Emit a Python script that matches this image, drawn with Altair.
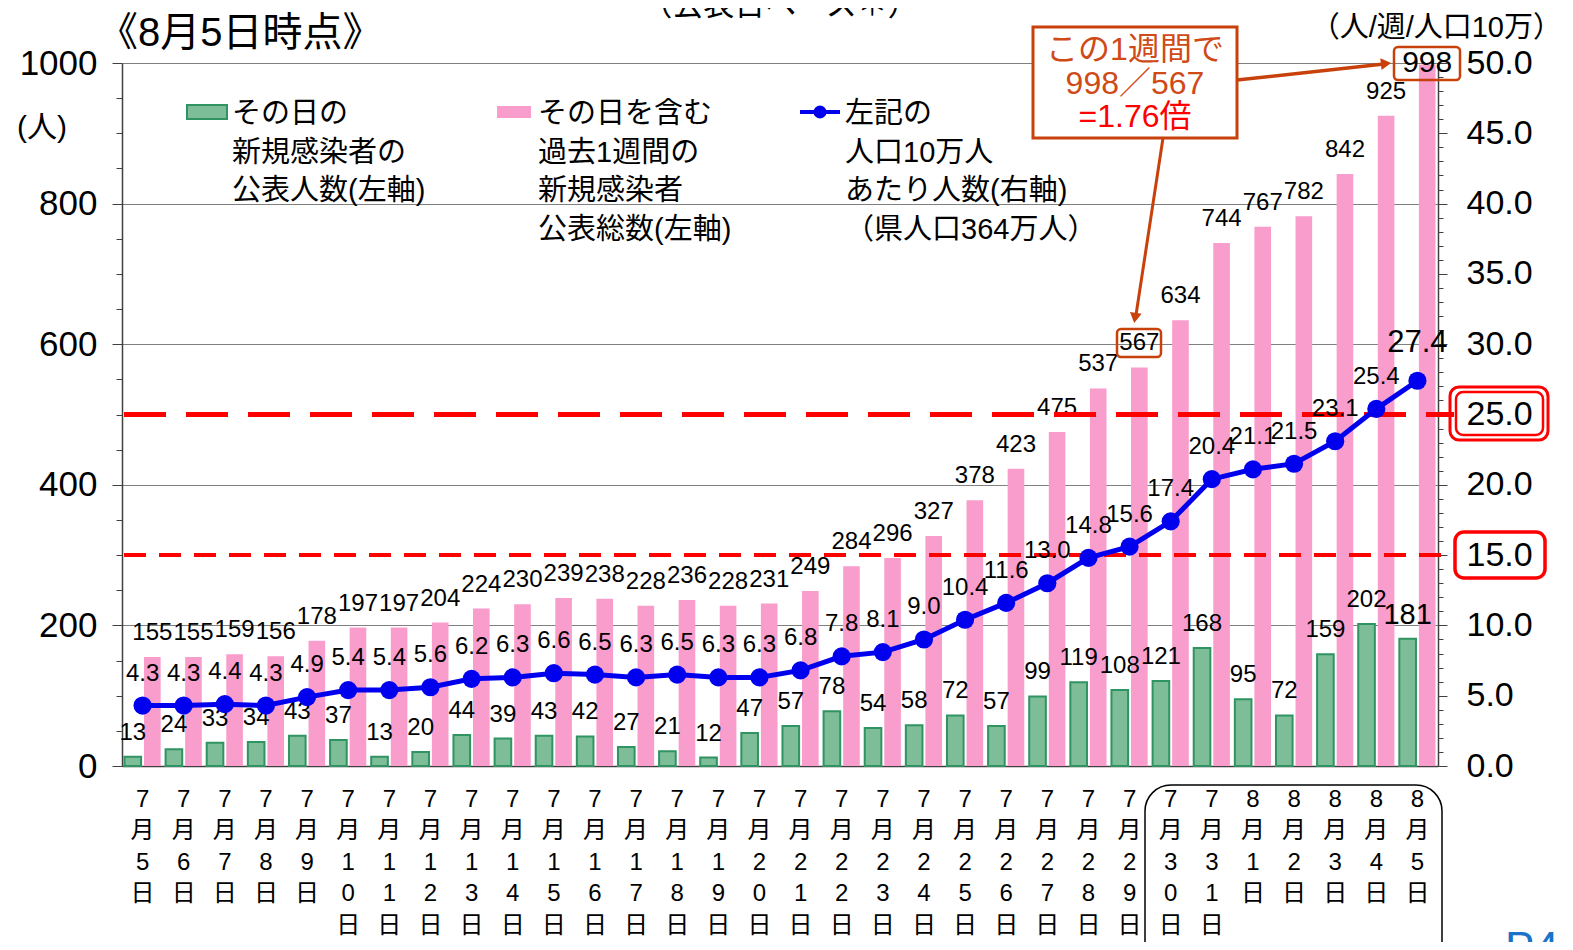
import altair as alt
import pandas as pd

# ---------------- data ----------------
days = ["7月5日", "7月6日", "7月7日", "7月8日", "7月9日", "7月10日", "7月11日", "7月12日",
        "7月13日", "7月14日", "7月15日", "7月16日", "7月17日", "7月18日", "7月19日", "7月20日",
        "7月21日", "7月22日", "7月23日", "7月24日", "7月25日", "7月26日", "7月27日", "7月28日",
        "7月29日", "7月30日", "7月31日", "8月1日", "8月2日", "8月3日", "8月4日", "8月5日"]
daily = [13, 24, 33, 34, 43, 37, 13, 20, 44, 39, 43, 42, 27, 21, 12, 47,
         57, 78, 54, 58, 72, 57, 99, 119, 108, 121, 168, 95, 72, 159, 202, 181]
weekly = [155, 155, 159, 156, 178, 197, 197, 204, 224, 230, 239, 238, 228, 236, 228, 231,
          249, 284, 296, 327, 378, 423, 475, 537, 567, 634, 744, 767, 782, 842, 925, 998]
rate = [4.3, 4.3, 4.4, 4.3, 4.9, 5.4, 5.4, 5.6, 6.2, 6.3, 6.6, 6.5, 6.3, 6.5, 6.3, 6.3,
        6.8, 7.8, 8.1, 9.0, 10.4, 11.6, 13.0, 14.8, 15.6, 17.4, 20.4, 21.1, 21.5, 23.1, 25.4, 27.4]
series_names = ["daily", "weekly"]
left_ticks = list(range(0, 1001, 50))
right_ticks = list(range(0, 51))
threshold_high = 25.0
threshold_low = 15.0

legend_daily = ["その日の", "新規感染者の", "公表人数(左軸)"]
legend_weekly = ["その日を含む", "過去1週間の", "新規感染者", "公表総数(左軸)"]
legend_rate = ["左記の", "人口10万人", "あたり人数(右軸)", "（県人口364万人）"]
title_text = "《8月5日時点》"
subtitle_text = "（公表日ベース＊）"
left_unit = "(人)"
right_unit = "（人/週/人口10万）"
note_lines = ["この1週間で", "998／567"]
note_result = "=1.76倍"
page_text = "P4"

# ---------------- styles ----------------
W, H = 1316, 703
FONT = "Liberation Sans, Arial, Noto Sans CJK JP, sans-serif"
GREEN_FILL = "#7dbd98"
GREEN_DARK = "#2f9462"
PINK = "#f99dcc"
BLUE = "#0000ee"
RED = "#ff0000"
ORANGE = "#c8410b"

bars_rows = []
for i, d in enumerate(days):
    bars_rows.append({"day": d, "i": i, "series": "daily", "value": daily[i]})
    bars_rows.append({"day": d, "i": i, "series": "weekly", "value": weekly[i]})
bars_df = pd.DataFrame(bars_rows)
line_df = pd.DataFrame({"day": days, "i": list(range(len(days))), "rate": rate})

xscale = alt.Scale(domain=days, paddingInner=0.12, paddingOuter=0.06)
xaxis = alt.Axis(title=None, labelExpr="split(datum.label, '')", labelAngle=0,
                 labelFontSize=24, labelLineHeight=31.5, labelBaseline="top",
                 labelPadding=21, ticks=False, labelOverlap=False, labelColor="black",
                 domainColor="#404040", domainWidth=1.5, labelFont=FONT)
x_enc = alt.X("day:N", scale=xscale, sort=None, axis=xaxis)

lscale = alt.Scale(domain=[0, 1000], nice=False, zero=True)
laxis = alt.Axis(title=None, values=left_ticks, format="d",
                 labelExpr="datum.value % 200 === 0 ? datum.label : ''",
                 tickSize={"condition": {"test": "datum.value % 200 === 0", "value": 10}, "value": 6},
                 grid=True,
                 gridOpacity={"condition": {"test": "datum.value % 200 === 0 && datum.value > 0", "value": 1}, "value": 0},
                 gridColor="#808080", gridWidth=1, labelFontSize=35, labelPadding=15,
                 labelColor="black", tickColor="#404040", domainColor="#404040",
                 domainWidth=1.5, labelFont=FONT)
y_left = alt.Y("value:Q", scale=lscale, axis=laxis)

rscale = alt.Scale(domain=[0, 50], nice=False, zero=True)
raxis = alt.Axis(title=None, orient="right", values=right_ticks,
                 labelExpr="datum.value % 5 === 0 ? format(datum.value, '.1f') : ''",
                 tickSize={"condition": {"test": "datum.value % 5 === 0", "value": 9}, "value": 5},
                 grid=False, labelFontSize=34, labelPadding=19, labelColor="black",
                 tickColor="#404040", domainColor="#404040", domainWidth=1.5, labelFont=FONT)

xoff = alt.XOffset("series:N", scale=alt.Scale(domain=series_names, paddingInner=0.15, paddingOuter=0))

# ---------------- left group ----------------
bars = alt.Chart(bars_df).mark_bar().encode(
    x=x_enc, xOffset=xoff, y=y_left,
    color=alt.Color("series:N", scale=alt.Scale(domain=series_names, range=[GREEN_FILL, PINK]), legend=None),
    stroke=alt.Stroke("series:N", scale=alt.Scale(domain=series_names, range=[GREEN_DARK, PINK]), legend=None),
    strokeWidth=alt.condition("datum.series === 'daily'", alt.value(2), alt.value(0)),
)

bar_labels = alt.Chart(bars_df).transform_filter(
    "!(datum.series === 'weekly' && datum.i === 31)"
).mark_text(baseline="middle", dy=-24, font=FONT, color="black").encode(
    x=x_enc, xOffset=xoff, y=y_left, text=alt.Text("value:Q"),
    size=alt.condition("datum.i === 31", alt.value(29), alt.value(24)),
)
last_label = alt.Chart(bars_df).transform_filter(
    "datum.series === 'weekly' && datum.i === 31"
).mark_text(baseline="middle", dy=-1, font=FONT, color="black", fontSize=30).encode(
    x=x_enc, xOffset=xoff, y=y_left, text=alt.Text("value:Q"),
)
left = alt.layer(bars, bar_labels, last_label)

# ---------------- right group ----------------
y_right = alt.Y("rate:Q", scale=rscale, axis=raxis)
rule_hi = alt.Chart(pd.DataFrame({"v": [threshold_high]})).mark_rule(
    color=RED, strokeWidth=5, strokeDash=[42, 20]).encode(
    y=alt.Y("v:Q", scale=rscale, axis=raxis), x=alt.value(2), x2=alt.value(1332))
rule_lo = alt.Chart(pd.DataFrame({"v": [threshold_low]})).mark_rule(
    color=RED, strokeWidth=4, strokeDash=[22, 13]).encode(
    y=alt.Y("v:Q", scale=rscale, axis=raxis), x=alt.value(2), x2=alt.value(1332))
line = alt.Chart(line_df).mark_line(color=BLUE, strokeWidth=5).encode(x=x_enc, y=y_right)
pts = alt.Chart(line_df).mark_circle(color=BLUE, size=330, opacity=1).encode(x=x_enc, y=y_right)
rate_labels = alt.Chart(line_df).transform_filter("datum.i < 31").mark_text(
    baseline="middle", dy=-32, font=FONT, fontSize=24, color="black").encode(
    x=x_enc, y=y_right, text=alt.Text("rate:Q", format=".1f"))
rate_last = alt.Chart(line_df).transform_filter("datum.i === 31").mark_text(
    baseline="middle", dy=-38, font=FONT, fontSize=31, color="black").encode(
    x=x_enc, y=y_right, text=alt.Text("rate:Q", format=".1f"))
right = alt.layer(rule_hi, rule_lo, line, pts, rate_labels, rate_last)

# ---------------- annotations ----------------
one = pd.DataFrame({"a": [0]})


def txt(text, x, y, size, align="left", color="black", baseline="middle", lh=None):
    kw = dict(text=text, fontSize=size, align=align, color=color, baseline=baseline, font=FONT)
    if lh is not None:
        kw["lineHeight"] = lh
    return alt.Chart(one).mark_text(**kw).encode(x=alt.value(x), y=alt.value(y))


def box(x, y, x2, y2, stroke, sw, fill="white", fo=0.0, r=0):
    return alt.Chart(one).mark_rect(fill=fill, fillOpacity=fo, stroke=stroke, strokeWidth=sw,
                                    cornerRadius=r).encode(
        x=alt.value(x), y=alt.value(y), x2=alt.value(x2), y2=alt.value(y2))


def seg(x, y, x2, y2, color, sw):
    return alt.Chart(one).mark_rule(color=color, strokeWidth=sw).encode(
        x=alt.value(x), y=alt.value(y), x2=alt.value(x2), y2=alt.value(y2))


def head(x, y, shape, angle, color, size):
    return alt.Chart(one).mark_point(shape=shape, angle=angle, filled=True, color=color,
                                     size=size, opacity=1).encode(x=alt.value(x), y=alt.value(y))


ann = [
    txt(title_text, -24, -29, 40),
    txt(subtitle_text, 658, -41, 31, align="center", baseline="bottom"),
    txt(left_unit, -105, 65, 30),
    txt(right_unit, 1440, -35, 29, align="right"),
    # legend
    box(65, 42, 105, 56, GREEN_DARK, 2, fill=GREEN_FILL, fo=1),
    txt(legend_daily, 110, 60, 29, baseline="alphabetic", lh=38.5),
    box(375, 43, 409, 55, PINK, 0, fill=PINK, fo=1),
    txt(legend_weekly, 416, 60, 29, baseline="alphabetic", lh=38.5),
    seg(678, 49, 718, 49, BLUE, 4),
    head(698, 49, "circle", 0, BLUE, 170),
    txt(legend_rate, 723, 60, 29, baseline="alphabetic", lh=38.5),
    # arrows
    seg(1115, 17, 1262, 1, ORANGE, 3.5),
    head(1264, 0.5, "triangle-right", 354, ORANGE, 140),
    seg(1041, 75, 1014, 252, ORANGE, 3),
    head(1013, 255, "triangle-down", 9, ORANGE, 140),
    # note box
    box(911, -36, 1115, 75, ORANGE, 3, fill="white", fo=1),
    txt(note_lines, 1013, -3, 32, align="center", color="#cf4a17", baseline="alphabetic", lh=34),
    txt(note_result, 1013, 64, 32, align="center", color=RED, baseline="alphabetic"),
    # highlight boxes
    box(1272, -16, 1338, 17, ORANGE, 2.5, r=4),
    box(995, 266, 1039, 294, ORANGE, 2.5, r=4),
    box(1328, 324, 1426, 377, RED, 3, r=9),
    box(1334, 329, 1421, 372, RED, 2.5, r=7),
    box(1333, 469, 1423, 515, RED, 3.5, r=9),
    box(1023, 722, 1320, 960, "black", 1.5, r=26),
    txt(page_text, 1383, 865, 44, color="#1a73c8", baseline="top"),
]
annot = alt.layer(*ann)

chart = alt.layer(left, right, annot).resolve_scale(y="independent").properties(
    width=W, height=H,
    autosize=alt.AutoSizeParams(type="none"),
    padding={"left": 114, "top": 55, "right": 127, "bottom": 176},
).configure_view(strokeWidth=0).configure(font=FONT)

chart.save("out.html", embed_options={"renderer": "svg", "actions": False})
